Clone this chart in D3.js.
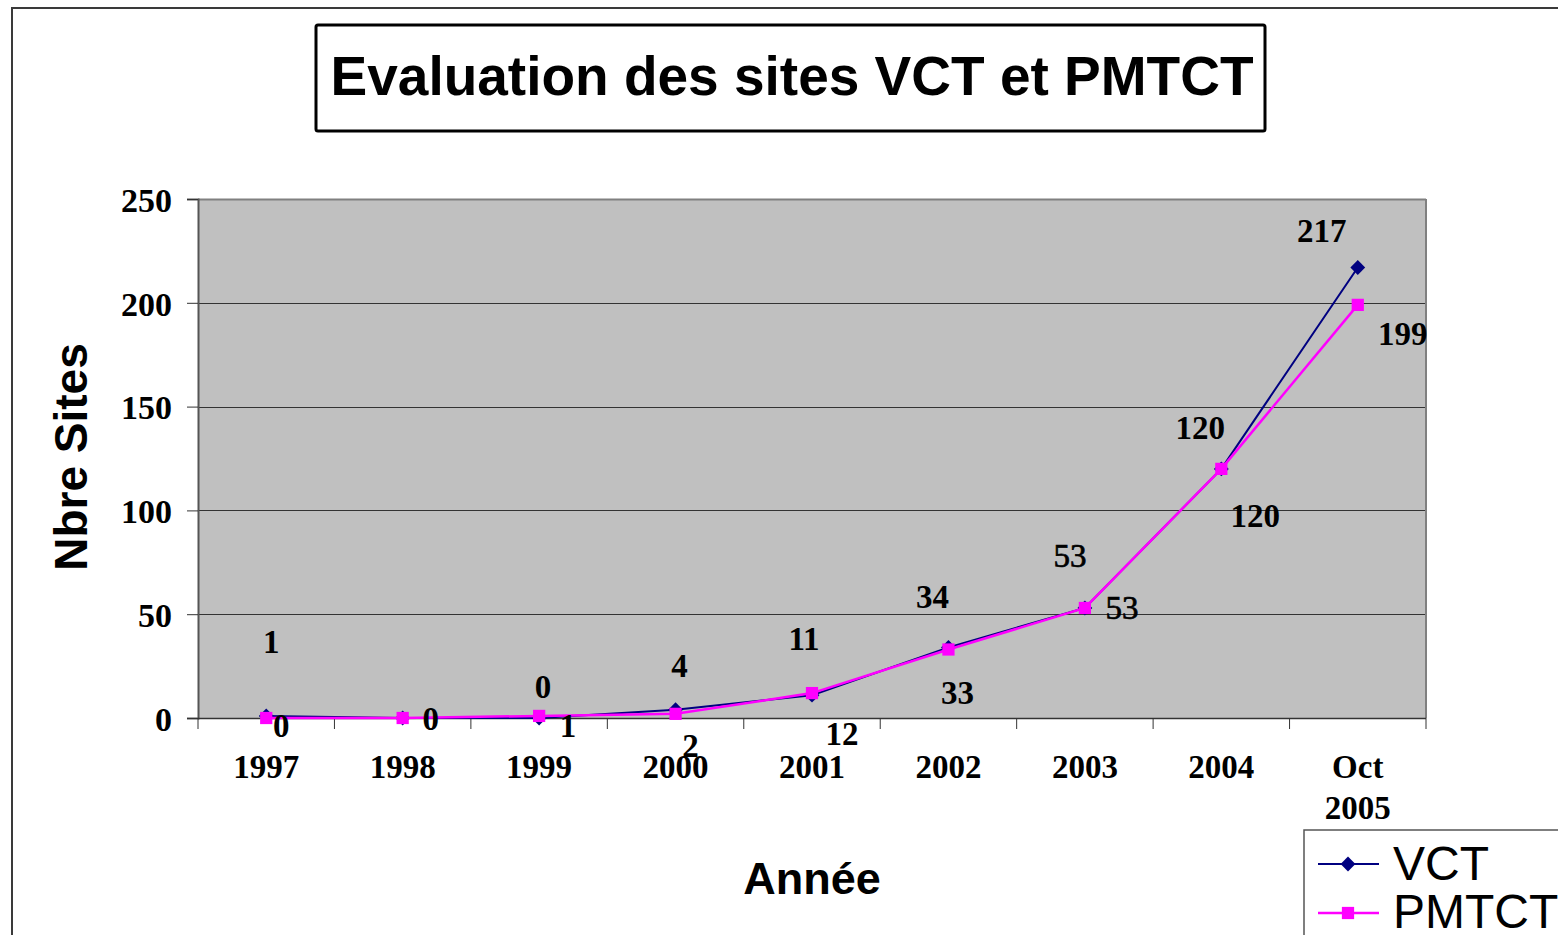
<!DOCTYPE html>
<html>
<head>
<meta charset="utf-8">
<script src="https://cdn.jsdelivr.net/npm/d3@7"></script>
<style>
  html, body { margin: 0; padding: 0; background: #fff; }
  svg { display: block; }
</style>
</head>
<body>
<svg id="chart" width="1558" height="935"></svg>
<script>
// ---- data ----
const categories = ["1997", "1998", "1999", "2000", "2001", "2002", "2003", "2004", "Oct 2005"];
const vctValues = [1, 0, 0, 4, 11, 34, 53, 120, 217];
const pmtctValues = [0, 0, 1, 2, 12, 33, 53, 120, 199];
const yTicks = [0, 50, 100, 150, 200, 250];
const seriesNames = ["VCT", "PMTCT"];
const titleText = "Evaluation des sites VCT et PMTCT";
const yTitle = "Nbre Sites";
const xTitle = "Année";

// ---- label placement (offsets from each point, px) ----
const vctLabelOffsets = [[5, -63], null, [4, -20], [4, -33], [-8, -45], [-16, -39], [-15, -41], [-21, -30], [-36, -26]];
const pmtctLabelOffsets = [[15, 19], [28, 12], [29, 21], [15, 43], [30, 52], [9, 55], [37, 11], [34, 58], [45, 40]];
const plainLabelIndex = [6];

const svg = d3.select("#chart");
const serif = "'Liberation Serif', 'Times New Roman', serif";
const sans = "'Liberation Sans', Arial, sans-serif";

// outer chart border
svg.append("rect").attr("x", 12).attr("y", 8).attr("width", 1700).attr("height", 1100)
  .attr("fill", "#fff").attr("stroke", "#3a3a3a").attr("stroke-width", 2);

// title box
svg.append("rect").attr("x", 316).attr("y", 25).attr("width", 949).attr("height", 106)
  .attr("rx", 2).attr("fill", "#fff").attr("stroke", "#000").attr("stroke-width", 3);
svg.append("text").attr("x", 792).attr("y", 95).attr("text-anchor", "middle")
  .attr("font-family", sans).attr("font-weight", "bold").attr("font-size", 55)
  .attr("fill", "#000").text(titleText);

// scales
const x = d3.scaleBand().domain(categories).range([198, 1426]).padding(0);
const y = d3.scaleLinear().domain([0, 250]).range([718, 199]);
const cx = d => x(d) + x.bandwidth() / 2;

// plot area
svg.append("rect").attr("x", 198).attr("y", 199).attr("width", 1228).attr("height", 519)
  .attr("fill", "#c0c0c0");

// gridlines
svg.append("g").selectAll("line").data(yTicks.filter(t => t > 0)).join("line")
  .attr("x1", 198).attr("x2", 1426)
  .attr("y1", d => Math.round(y(d)) + 0.5).attr("y2", d => Math.round(y(d)) + 0.5)
  .attr("stroke", d => d === 250 ? "#808080" : "#333").attr("stroke-width", d => d === 250 ? 2 : 1);

// right border of plot
svg.append("line").attr("x1", 1426).attr("x2", 1426).attr("y1", 199).attr("y2", 718)
  .attr("stroke", "#808080").attr("stroke-width", 2);

// y axis
const yAxis = svg.append("g").attr("transform", "translate(198,0)")
  .call(d3.axisLeft(y).tickValues(yTicks).tickSize(11).tickPadding(15).tickFormat(d3.format("d")));
yAxis.select(".domain").attr("stroke", "#555").attr("stroke-width", 2);
yAxis.selectAll(".tick line").attr("stroke", "#333");
yAxis.selectAll(".tick text").attr("font-family", serif).attr("font-weight", "bold")
  .attr("font-size", 34).attr("fill", "#000").attr("dy", "0.36em");

// x axis line and boundary ticks
svg.append("line").attr("x1", 198).attr("x2", 1426).attr("y1", 718.5).attr("y2", 718.5)
  .attr("stroke", "#333").attr("stroke-width", 1.5);
const boundaries = categories.map(c => x(c)).concat([x.range()[1]]);
svg.append("g").selectAll("line").data(boundaries).join("line")
  .attr("x1", d => d).attr("x2", d => d).attr("y1", 718).attr("y2", 729)
  .attr("stroke", "#333").attr("stroke-width", 1);

// x labels
const xl = svg.append("g").selectAll("text").data(categories).join("text")
  .attr("x", d => cx(d)).attr("y", 778).attr("text-anchor", "middle")
  .attr("font-family", serif).attr("font-weight", "bold").attr("font-size", 33).attr("fill", "#000");
xl.each(function(d) {
  const words = d.split(" ");
  const t = d3.select(this);
  words.forEach((w, i) => {
    t.append("tspan").attr("x", cx(d)).attr("dy", i === 0 ? 0 : 41).text(w);
  });
});

// axis titles
svg.append("text").attr("transform", "translate(87,457) rotate(-90)").attr("text-anchor", "middle")
  .attr("font-family", sans).attr("font-weight", "bold").attr("font-size", 46).attr("fill", "#000")
  .text(yTitle);
svg.append("text").attr("x", 812).attr("y", 894).attr("text-anchor", "middle")
  .attr("font-family", sans).attr("font-weight", "bold").attr("font-size", 45).attr("fill", "#000")
  .text(xTitle);

// series
const series = [
  { name: seriesNames[0], values: vctValues, color: "#000080", width: 2, symbol: "diamond", offsets: vctLabelOffsets },
  { name: seriesNames[1], values: pmtctValues, color: "#ff00ff", width: 2.5, symbol: "square", offsets: pmtctLabelOffsets }
];
const line = d3.line().x((d, i) => cx(categories[i])).y(d => y(d));
const diamondPath = d3.symbol().type(d3.symbolSquare).size(110)();
const squarePath = d3.symbol().type(d3.symbolSquare).size(150)();

series.forEach(s => {
  svg.append("path").datum(s.values).attr("d", line).attr("fill", "none")
    .attr("stroke", s.color).attr("stroke-width", s.width);
  svg.append("g").selectAll("path").data(s.values).join("path")
    .attr("d", s.symbol === "diamond" ? diamondPath : squarePath)
    .attr("transform", (d, i) => `translate(${cx(categories[i])},${y(d)})` + (s.symbol === "diamond" ? " rotate(45)" : ""))
    .attr("fill", s.color);
});

// data labels
series.forEach(s => {
  svg.append("g").selectAll("text").data(s.values.map((v, i) => ({ v, i })).filter(d => s.offsets[d.i]))
    .join("text")
    .attr("x", d => cx(categories[d.i]) + s.offsets[d.i][0])
    .attr("y", d => y(d.v) + s.offsets[d.i][1])
    .attr("text-anchor", "middle")
    .attr("font-family", serif)
    .attr("font-weight", d => plainLabelIndex.includes(d.i) ? "normal" : "bold")
    .attr("stroke", d => plainLabelIndex.includes(d.i) ? "#000" : "none")
    .attr("stroke-width", 0.7)
    .attr("font-size", 33).attr("fill", "#000")
    .text(d => d.v);
});

// legend
const lg = svg.append("g");
lg.append("rect").attr("x", 1304).attr("y", 830).attr("width", 400).attr("height", 200)
  .attr("fill", "#fff").attr("stroke", "#555").attr("stroke-width", 1.5);
series.forEach((s, k) => {
  const ly = 864 + k * 49;
  lg.append("line").attr("x1", 1318).attr("x2", 1379).attr("y1", ly).attr("y2", ly)
    .attr("stroke", s.color).attr("stroke-width", s.width);
  lg.append("path").attr("d", s.symbol === "diamond" ? diamondPath : squarePath)
    .attr("transform", `translate(1348,${ly})` + (s.symbol === "diamond" ? " rotate(45)" : ""))
    .attr("fill", s.color);
  lg.append("text").attr("x", 1393).attr("y", ly + 16 + (k === 0 ? 0 : -1)).attr("font-family", sans)
    .attr("font-size", 48).attr("fill", "#000").text(s.name);
});
</script>
</body>
</html>
